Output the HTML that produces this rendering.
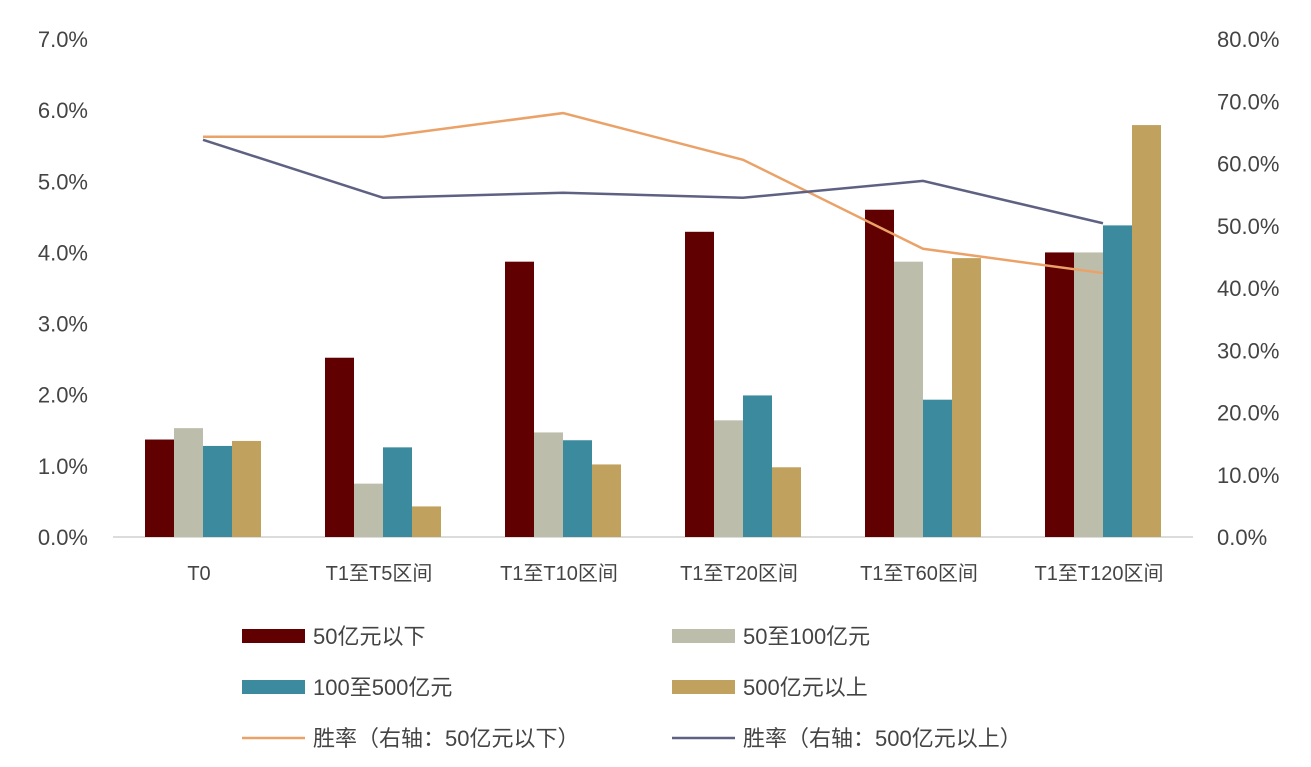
<!DOCTYPE html>
<html><head><meta charset="utf-8"><style>
body{margin:0;background:#fff;}
svg text{font-family:"Liberation Sans","Noto Sans CJK SC",sans-serif;fill:#444;}
</style></head><body>
<svg width="1311" height="762" xmlns="http://www.w3.org/2000/svg" id="chart">
<g id="axes"></g><g id="bars"></g><g id="lines"></g><g id="legend"></g>
</svg>
<script>
const categories=["T0","T1至T5区间","T1至T10区间","T1至T20区间","T1至T60区间","T1至T120区间"];
const seriesNames=["50亿元以下","50至100亿元","100至500亿元","500亿元以上"];
const s1=[1.37,2.52,3.87,4.29,4.60,4.00];
const s2=[1.53,0.75,1.47,1.64,3.87,4.00];
const s3=[1.28,1.26,1.36,1.99,1.93,4.38];
const s4=[1.35,0.43,1.02,0.98,3.92,5.79];
const winSmall=[64.3,64.3,68.1,60.6,46.3,42.4];
const winLarge=[63.8,54.5,55.3,54.5,57.2,50.4];
const leftTicks=["0.0%","1.0%","2.0%","3.0%","4.0%","5.0%","6.0%","7.0%"];
const rightTicks=["0.0%","10.0%","20.0%","30.0%","40.0%","50.0%","60.0%","70.0%","80.0%"];
const lineNames=["胜率（右轴：50亿元以下）","胜率（右轴：500亿元以上）"];

const NS="http://www.w3.org/2000/svg";
const colors=["#600000","#bdbdab","#3b8a9d","#c1a15e"];
const lineColors=["#eba268","#5e6182"];
const y0=537,yTop=39,x0=113,catW=180,barW=29;
const yL=v=>y0-(v/7)*(y0-yTop);
const yR=v=>y0-(v/80)*(y0-yTop);
const xC=i=>x0+catW*(i+0.5);
function el(tag,attrs,parent,txt){const e=document.createElementNS(NS,tag);for(const k in attrs)e.setAttribute(k,attrs[k]);if(txt!==undefined)e.textContent=txt;parent.appendChild(e);return e;}
const axes=document.getElementById('axes');
const ax=el('line',{x1:113,x2:1193,y1:y0,y2:y0,stroke:'#d0d0d0','stroke-width':1.5},axes);

leftTicks.forEach((t,i)=>{const e=el('text',{x:88,y:yL(i)+8,'text-anchor':'end','font-size':22},axes,t);
});
rightTicks.forEach((t,i)=>{const e=el('text',{x:1217,y:yR(i*10)+8,'text-anchor':'start','font-size':22},axes,t);
});
categories.forEach((c,i)=>{const e=el('text',{x:xC(i)-4,y:580,'text-anchor':'middle','font-size':20},axes,c);
});
const bars=document.getElementById('bars');
[s1,s2,s3,s4].forEach((s,k)=>s.forEach((v,i)=>{
const x=xC(i)-2*barW+k*barW;
const r=el('rect',{x:x,y:yL(v),width:barW,height:y0-yL(v),fill:colors[k]},bars);
}));
const lines=document.getElementById('lines');
[winSmall,winLarge].forEach((s,k)=>{
const p=el('polyline',{points:s.map((v,i)=>xC(i)+','+yR(v)).join(' '),fill:'none',stroke:lineColors[k],'stroke-width':2.5},lines);
});
const lg=document.getElementById('legend');
seriesNames.forEach((n,k)=>{const col=k%2,row=Math.floor(k/2);
const x=col?672:242,y=636+row*51;
const r=el('rect',{x:x,y:y-7,width:63,height:14,fill:colors[k]},lg);

const t=el('text',{x:x+71,y:y+8,'font-size':22,fill:'#222'},lg,n);
});
lineNames.forEach((n,k)=>{const x=k?672:242,y=738;
const l=el('line',{x1:x,x2:x+63,y1:y,y2:y,stroke:lineColors[k],'stroke-width':2.5},lg);

const t=el('text',{x:x+71,y:y+8,'font-size':22,fill:'#222'},lg,n);
});
</script>
</body></html>
